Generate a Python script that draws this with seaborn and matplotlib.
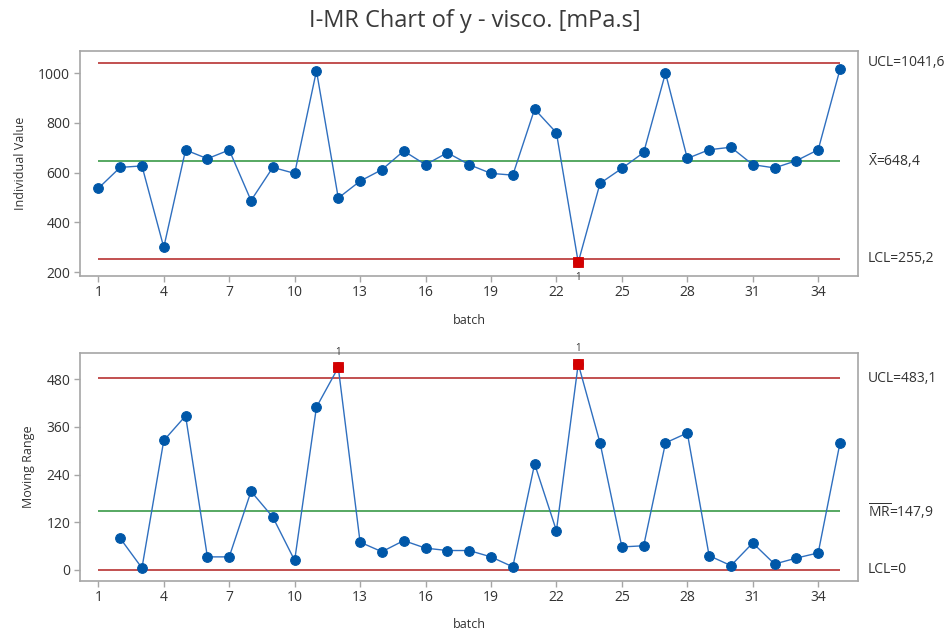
import numpy as np
import pandas as pd
import matplotlib
matplotlib.use("Agg")
import matplotlib.pyplot as plt
import seaborn as sns

# ---- data ----
batch = list(range(1, 36))
indiv = [537, 621, 627, 300, 691, 656, 691, 488, 621, 597,
         1009, 498, 566, 612, 687, 632, 680, 632, 597, 590,
         855, 760, 240, 557, 617, 681, 1000, 657, 692, 702,
         632, 619, 648, 692, 1015]
mr = [np.nan, 80, 5, 326, 388, 33, 33, 198, 133, 24,
      410, 510, 70, 46, 74, 55, 49, 49, 33, 8,
      267, 99, 519, 320, 58, 61, 320, 345, 36, 11,
      68, 15, 30, 43, 320]
i_limits = {"UCL": 1041.6, "CL": 648.4, "LCL": 255.2}
mr_limits = {"UCL": 483.1, "CL": 147.9, "LCL": 0.0}
i_labels = ["UCL=1041,6", r"$\mathdefault{\bar{X}}$=648,4", "LCL=255,2"]
mr_labels = ["UCL=483,1", r"$\mathdefault{\overline{MR}}$=147,9", "LCL=0"]
x_ticks = [1, 4, 7, 10, 13, 16, 19, 22, 25, 28, 31, 34]
i_ticks = [200, 400, 600, 800, 1000]
mr_ticks = [0, 120, 240, 360, 480]
title = "I-MR Chart of y - visco. [mPa.s]"

sns.set_style("white")
plt.rcParams["font.family"] = ["Open Sans", "DejaVu Sans"]
plt.rcParams["mathtext.fontset"] = "custom"
plt.rcParams["mathtext.rm"] = "Open Sans"
plt.rcParams["mathtext.it"] = "Open Sans"

BLUE_PT = "#0057a8"
BLUE_LN = "#2f6fbf"
RED_LN = "#b83232"
GREEN_LN = "#3a9a48"
RED_PT = "#d40000"
FRAME = "#a6a6a6"
TXT = "#333333"

df = pd.DataFrame({"batch": batch, "indiv": indiv, "mr": mr})

fig = plt.figure(figsize=(9.49, 6.33), dpi=100)
ax1 = fig.add_axes([0.0843, 0.5645, 0.8197, 0.3549])
ax2 = fig.add_axes([0.0843, 0.0826, 0.8197, 0.3602])


def draw(ax, col, limits, labels, ticks, ylim, ylabel, mark_below):
    sub = df.dropna(subset=[col])
    sns.lineplot(data=sub, x="batch", y=col, ax=ax, color=BLUE_LN, lw=1.0,
                 marker="o", markersize=7, markerfacecolor=BLUE_PT,
                 markeredgecolor=BLUE_PT, zorder=3)
    for key, c in zip(["UCL", "CL", "LCL"], [RED_LN, GREEN_LN, RED_LN]):
        ax.hlines(limits[key], batch[0], batch[-1], color=c, lw=1.2, zorder=2)
    out = sub[(sub[col] > limits["UCL"]) | (sub[col] < limits["LCL"])]
    sns.scatterplot(data=out, x="batch", y=col, ax=ax, marker="s", s=55,
                    color=RED_PT, edgecolor=RED_PT, zorder=4, legend=False)
    for _, r in out.iterrows():
        if mark_below:
            ax.annotate("1", (r["batch"], r[col]), xytext=(0, -7),
                        textcoords="offset points", ha="center", va="top",
                        fontsize=7, color=TXT, annotation_clip=False)
        else:
            ax.annotate("1", (r["batch"], r[col]), xytext=(0, 7),
                        textcoords="offset points", ha="center", va="bottom",
                        fontsize=7, color=TXT, annotation_clip=False)
    tr = ax.get_yaxis_transform()
    for key, lab in zip(["UCL", "CL", "LCL"], labels):
        ax.text(1.013, limits[key], lab, transform=tr, ha="left", va="center",
                fontsize=10, color=TXT)
    ax.set_xlim(0.16, 35.82)
    ax.set_ylim(*ylim)
    ax.set_xticks(x_ticks)
    ax.set_yticks(ticks)
    ax.set_xlabel("batch", fontsize=9, color=TXT, labelpad=4)
    ax.xaxis.set_label_coords(0.5, -0.17 if ax is ax1 else -0.165)
    ax.set_ylabel(ylabel, fontsize=9, color=TXT, labelpad=8)
    ax.tick_params(axis="both", which="major", direction="out", length=4,
                   width=1, color=FRAME, labelsize=10, labelcolor=TXT,
                   bottom=True, left=True, pad=3)
    for s in ax.spines.values():
        s.set_color(FRAME)
        s.set_linewidth(1.2)


draw(ax1, "indiv", i_limits, i_labels, i_ticks, (186.3, 1088.3),
     "Individual Value", True)
draw(ax2, "mr", mr_limits, mr_labels, mr_ticks, (-27, 547),
     "Moving Range", False)

fig.suptitle(title, x=0.5, y=0.985, fontsize=17, color="#3a3a3a")
fig.savefig("out.png", dpi=100)
